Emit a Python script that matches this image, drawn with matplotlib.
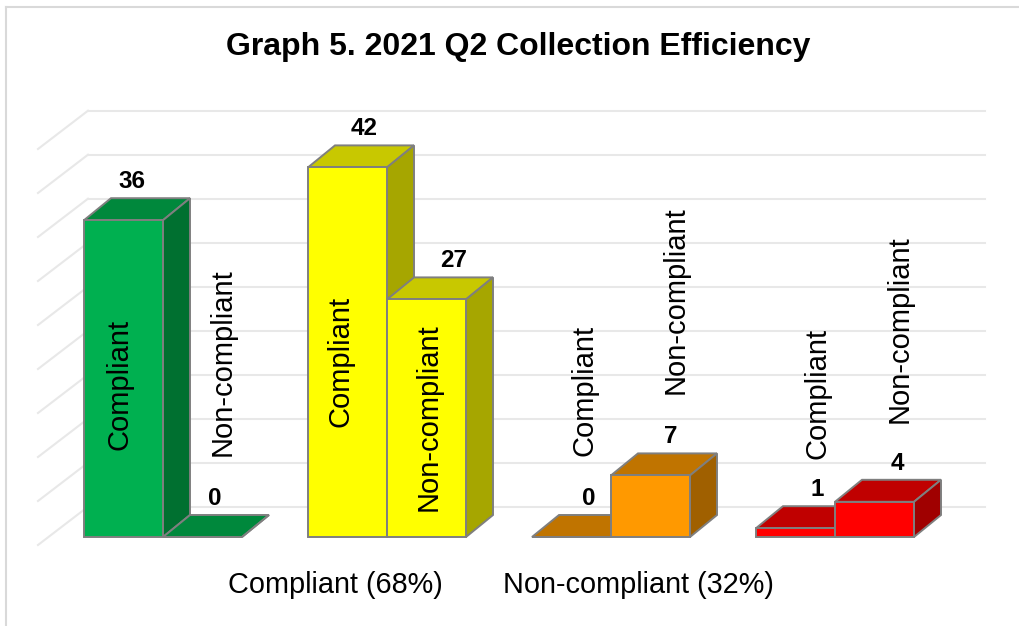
import matplotlib.pyplot as plt
from matplotlib.patches import Polygon
from matplotlib.lines import Line2D

plt.rcParams['font.family'] = ['Liberation Sans', 'DejaVu Sans']

# data
groups = ["Green", "Yellow", "Orange", "Red"]
series = ["Compliant", "Non-compliant"]
compliant = [36, 42, 0, 1]
non_compliant = [0, 27, 7, 4]
axis_labels = ["Compliant (68%)", "Non-compliant (32%)"]
title = "Graph 5. 2021 Q2 Collection Efficiency"

# colours per group: front, top, side
front_colors = ["#00B050", "#FFFF00", "#FF9900", "#FF0000"]
top_colors = ["#00883C", "#C8C800", "#C07400", "#C00000"]
side_colors = ["#007030", "#A6A600", "#A06000", "#A00000"]

# layout (pixel mapping of the original)
W, H = 1019, 626
x0_px, px_per_x = 163, 224.0
v0_px, px_per_v = 537, 8.8
bar_w = 79 / px_per_x
dx, dy = 27 / px_per_x, 22 / px_per_v        # bar depth
wall_dy = (v0_px - 506.7) / px_per_v          # back wall offset
floor_dy = (v0_px - 545) / px_per_v
wall_left = (88 - x0_px) / px_per_x
side_left = (38 - x0_px) / px_per_x
wall_right = (985 - x0_px) / px_per_x

# series-name label positions (x offset from bar centre, y centre in value units)
name_pos = [[(-0.02, 17.3), (0.09, 19.9)],
            [(-0.03, 20.0), (0.01, 13.6)],
            [(0.06, 16.6), (0.11, 26.9)],
            [(0.10, 16.3), (0.11, 23.6)]]
# value-label x offsets from bar centre (px)
value_dx = [[8, 12], [17, 27], [17, 20], [22, 23]]

fig = plt.figure(figsize=(W / 100, H / 100), dpi=100)
ax = fig.add_axes([0, 0, 1, 1])
ax.set_xlim(-x0_px / px_per_x, (W - x0_px) / px_per_x)
ax.set_ylim(-(H - v0_px) / px_per_v, v0_px / px_per_v)
ax.axis('off')

# back wall gridlines + side wall diagonals
grid_col = "#E8E8E8"
for v in range(0, 50, 5):
    ax.plot([wall_left, wall_right], [v + wall_dy] * 2, color=grid_col, lw=1.5, zorder=1)
    ax.plot([side_left, wall_left], [v + floor_dy, v + wall_dy], color=grid_col, lw=1.5, zorder=1)

edge = "#7F7F7F"
z = 2
for g in range(len(groups)):
    for s, vals in enumerate([compliant, non_compliant]):
        v = vals[g]
        x0 = g - bar_w + s * bar_w
        x1 = x0 + bar_w
        top = [(x0, v), (x1, v), (x1 + dx, v + dy), (x0 + dx, v + dy)]
        side = [(x1, 0), (x1 + dx, dy), (x1 + dx, v + dy), (x1, v)]
        front = [(x0, 0), (x1, 0), (x1, v), (x0, v)]
        for pts, col in [(top, top_colors[g]), (side, side_colors[g]), (front, front_colors[g])]:
            ax.add_patch(Polygon(pts, closed=True, facecolor=col, edgecolor=edge,
                                 lw=1.4, joinstyle='miter', zorder=z))
        z += 1

# labels
for g in range(len(groups)):
    for s, vals in enumerate([compliant, non_compliant]):
        v = vals[g]
        xc = g - bar_w / 2 + s * bar_w
        ax.text(xc + value_dx[g][s] / px_per_x, v + dy + 1.9, str(v),
                ha='center', va='center', fontsize=17.5, fontweight='bold', zorder=50)
        ox, oy = name_pos[g][s]
        ax.text(xc + ox, oy, series[s], rotation=90, ha='center', va='center',
                fontsize=21, zorder=50)

ax.text((335 - x0_px) / px_per_x, (v0_px - 585) / px_per_v, axis_labels[0],
        ha='center', va='center', fontsize=20.8)
ax.text((638 - x0_px) / px_per_x, (v0_px - 585) / px_per_v, axis_labels[1],
        ha='center', va='center', fontsize=20.8)

fig.text(518 / W, 1 - 47 / H, title, ha='center', va='center',
         fontsize=23, fontweight='bold')

# chart border
fig.add_artist(Line2D([6 / W, 6 / W], [0, 1 - 7 / H], color="#D9D9D9", lw=1.5))
fig.add_artist(Line2D([6 / W, 1], [1 - 7 / H, 1 - 7 / H], color="#D9D9D9", lw=1.5))

fig.savefig("out.png", dpi=100)
